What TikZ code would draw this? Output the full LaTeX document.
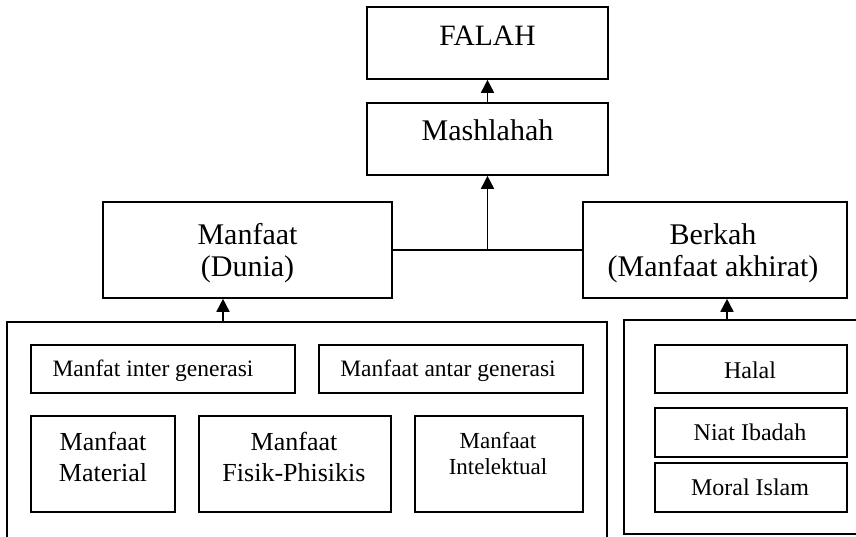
\documentclass[tikz,border=0pt]{standalone}
\usepackage{fontspec}
\setmainfont{Liberation Serif}
\usetikzlibrary{arrows.meta}
\begin{document}
\begin{tikzpicture}[x=1pt,y=-1pt,
  boxn/.style={draw=black, line width=1.6pt, inner sep=0pt, fill=none},
  ln/.style={line width=1.6pt},
  arr/.style={line width=1.6pt, -{Triangle[length=13pt,width=13pt]}},
  txt/.style={anchor=base, inner sep=0pt, font=\fontsize{#1}{#1}\selectfont},
]
\useasboundingbox (0,0) rectangle (856,536);
\fill[white] (0,0) rectangle (856,536);

% top boxes
\node[boxn, minimum width=241pt, minimum height=72pt] (falah) at (487.5,43) {};
\node[txt=29.5] (falaht) at (487.5,45) {FALAH};
\node[boxn, minimum width=241pt, minimum height=72pt] (mash) at (487.5,139) {};
\node[txt=30] (masht) at (487.5,140) {Mashlahah};

% middle boxes
\node[boxn, minimum width=289pt, minimum height=96pt] (dunia) at (247.5,250) {};
\node[txt=30] (duniat1) at (247.5,244) {Manfaat};
\node[txt=30] (duniat2) at (247.5,276) {(Dunia)};
\node[boxn, minimum width=264pt, minimum height=96pt] (berkah) at (715,250) {};
\node[txt=30] (berkaht1) at (713,244) {Berkah};
\node[txt=30] (berkaht2) at (713,276) {(Manfaat akhirat)};

% big container boxes (cut by the picture edge)
\begin{scope}
\clip (0,0) rectangle (856,536);
\node[boxn, minimum width=600pt, minimum height=240pt] (leftbig) at (307,442) {};
\node[boxn, minimum width=256pt, minimum height=214pt] (rightbig) at (752,427) {};
\end{scope}

% left container contents
\node[boxn, minimum width=264pt, minimum height=48pt] (inter) at (163,369) {};
\node[txt=23.5] (intert) at (153,376) {Manfat inter generasi};
\node[boxn, minimum width=264pt, minimum height=48pt] (antar) at (451,369) {};
\node[txt=23.5] (antart) at (448,376) {Manfaat antar generasi};
\node[boxn, minimum width=144pt, minimum height=96pt] (material) at (103,464) {};
\node[txt=26] (materialt1) at (103,450) {Manfaat};
\node[txt=26] (materialt2) at (103,481) {Material};
\node[boxn, minimum width=192pt, minimum height=96pt] (fisik) at (295,464) {};
\node[txt=26] (fisikt1) at (294,450) {Manfaat};
\node[txt=26] (fisikt2) at (294,481) {Fisik-Phisikis};
\node[boxn, minimum width=168pt, minimum height=96pt] (intel) at (499,464) {};
\node[txt=23] (intelt1) at (498,448) {Manfaat};
\node[txt=23] (intelt2) at (498,474) {Intelektual};

% right container contents
\node[boxn, minimum width=192pt, minimum height=48pt] (halal) at (751,369) {};
\node[txt=24] (halalt) at (750,378) {Halal};
\node[boxn, minimum width=192pt, minimum height=49pt] (niat) at (751,432.5) {};
\node[txt=24] (niatt) at (750,440) {Niat Ibadah};
\node[boxn, minimum width=192pt, minimum height=49pt] (moral) at (751,487.5) {};
\node[txt=24] (moralt) at (750,495) {Moral Islam};

% connectors
\draw[arr] (mash.north) -- (falah.south);
\draw[ln] (dunia.east) -- (berkah.west);
\coordinate (j) at (487.5,250);
\draw[arr] (j) -- (mash.south);
\coordinate (xa) at (223,0);
\draw[arr] (xa |- leftbig.north) -- (xa |- dunia.south);
\coordinate (xb) at (727,0);
\draw[arr] (xb |- rightbig.north) -- (xb |- berkah.south);
\end{tikzpicture}
\end{document}
